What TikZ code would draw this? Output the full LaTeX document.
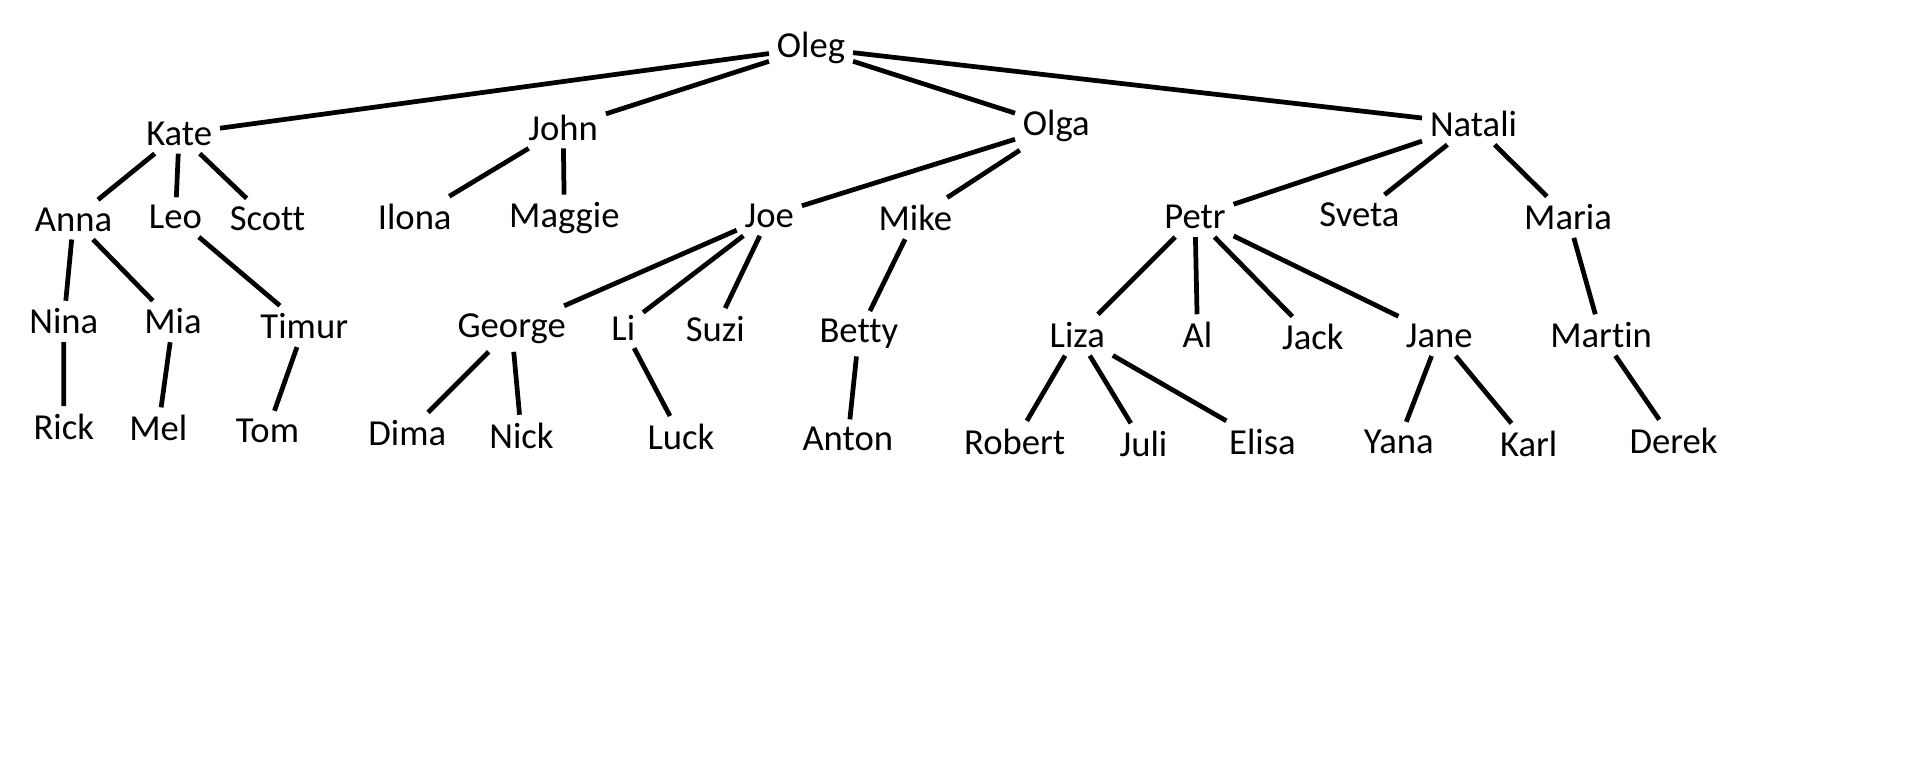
\documentclass[tikz,border=0pt]{standalone}
\usepackage{fontspec}
\setmainfont[Ligatures=NoCommon]{Carlito}
\tikzset{person/.style={inner sep=3.5pt,font=\fontsize{17}{19}\selectfont},
         link/.style={line width=2.2pt}}

\begin{document}
\begin{tikzpicture}[x=0.02cm,y=-0.02cm]
            \useasboundingbox (0,0) rectangle (1560,625);
            % level 0 and 1
            \node[person] (oleg) at (661,39) {Oleg};
            \node[person] (kate) at (146,109) {Kate};
            \node[person] (john) at (459,104) {John};
            \node[person] (olga) at (861,103) {Olga};
            \node[person] (natali) at (1201,101) {Natali};
            % level 2
            \node[person] (anna) at (60,179) {Anna};
            \node[person] (leo) at (143,177) {Leo};
            \node[person] (scott) at (218,178) {Scott};
            \node[person] (ilona) at (338,177) {Ilona};
            \node[person] (maggie) at (460,178) {Maggie};
            \node[person] (joe) at (627,176) {Joe};
            \node[person] (mike) at (746,178) {Mike};
            \node[person] (petr) at (974,177) {Petr};
            \node[person] (sveta) at (1108,175) {Sveta};
            \node[person] (maria) at (1278,177) {Maria};
            % level 3
            \node[person] (nina) at (52,262) {Nina};
            \node[person] (mia) at (141,262) {Mia};
            \node[person] (timur) at (248,266) {Timur};
            \node[person] (george) at (417,268) {George};
            \node[person] (li) at (508,267) {Li};
            \node[person] (suzi) at (583,268) {Suzi};
            \node[person] (betty) at (700,272) {Betty};
            \node[person] (liza) at (878,273) {Liza};
            \node[person] (al) at (976,273) {Al};
            \node[person] (jack) at (1070,275) {Jack};
            \node[person] (jane) at (1173,274) {Jane};
            \node[person] (martin) at (1305,273) {Martin};
            % level 4
            \node[person] (rick) at (52,348) {Rick};
            \node[person] (mel) at (129,349) {Mel};
            \node[person] (tom) at (218,351) {Tom};
            \node[person] (dima) at (332,353) {Dima};
            \node[person] (nick) at (425,355) {Nick};
            \node[person] (luck) at (555,356) {Luck};
            \node[person] (anton) at (691,358) {Anton};
            \node[person] (robert) at (827,360) {Robert};
            \node[person] (juli) at (932,362) {Juli};
            \node[person] (elisa) at (1029,360) {Elisa};
            \node[person] (yana) at (1140,360) {Yana};
            \node[person] (karl) at (1246,362) {Karl};
            \node[person] (derek) at (1364,359) {Derek};
            % links
            \draw[link] (oleg)--(kate) (oleg)--(john) (oleg)--(olga) (oleg)--(natali);
            \draw[link] (kate)--(anna) (kate)--(leo) (kate)--(scott);
            \draw[link] (john)--(ilona) (john)--(maggie);
            \draw[link] (olga)--(joe) (olga)--(mike);
            \draw[link] (natali)--(petr) (natali)--(sveta) (natali)--(maria);
            \draw[link] (anna)--(nina) (anna)--(mia) (leo)--(timur);
            \draw[link] (joe)--(george) (joe)--(li) (joe)--(suzi) (mike)--(betty);
            \draw[link] (petr)--(liza) (petr)--(al) (petr)--(jack) (petr)--(jane) (maria)--(martin);
            \draw[link] (nina)--(rick) (mia)--(mel) (timur)--(tom);
            \draw[link] (george)--(dima) (george)--(nick) (li)--(luck) (betty)--(anton);
            \draw[link] (liza)--(robert) (liza)--(juli) (liza)--(elisa);
            \draw[link] (jane)--(yana) (jane)--(karl) (martin)--(derek);
        \end{tikzpicture}
\end{document}
